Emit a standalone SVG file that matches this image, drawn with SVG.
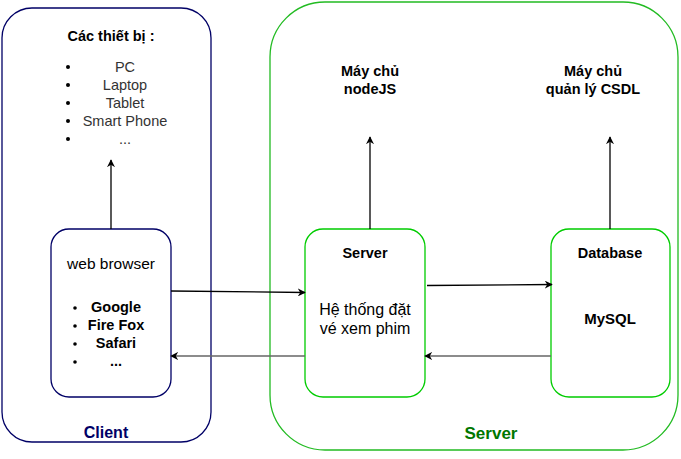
<svg xmlns="http://www.w3.org/2000/svg" width="681" height="459" viewBox="0 0 681 459">
<defs>
<marker id="ah" viewBox="0 0 10 10" refX="9" refY="5" markerWidth="8" markerHeight="8" markerUnits="userSpaceOnUse" orient="auto">
<path d="M0,0 L10,5 L0,10 L3,5 Z" fill="#000"/>
</marker>
<style>
text{font-family:"Liberation Sans",Arial,sans-serif;font-size:14.5px;fill:#000;text-anchor:middle}
.b{font-weight:bold}
.g{fill:#333}
.c{fill:none;stroke:#000;stroke-width:1.3;marker-end:url(#ah)}
.c2{fill:none;stroke:#666;stroke-width:1.5;marker-end:url(#ah)}
.nav{fill:#fff;stroke:#000066;stroke-width:1.3}
.grn{fill:#fff;stroke:#00cc00;stroke-width:1.3}
</style>
</defs>
<g id="client">
<rect class="nav" x="2" y="8" width="209" height="434" rx="30"/>
<text class="b" x="111" y="41">Các thiết bị :</text>
<g fill="#000"><circle cx="68" cy="67" r="2"/><circle cx="68" cy="85" r="2"/><circle cx="68" cy="103" r="2"/><circle cx="68" cy="121" r="2"/><circle cx="68" cy="139" r="2"/></g>
<text class="g" x="125" y="72">PC</text>
<text class="g" x="125" y="90">Laptop</text>
<text class="g" x="125" y="108">Tablet</text>
<text class="g" x="125" y="126">Smart Phone</text>
<text class="g" x="125" y="144">...</text>
<text class="b" x="106" y="438" style="fill:#000066;font-size:16px">Client</text>
</g>
<g id="server">
<rect x="270" y="2" width="408" height="448" rx="55" fill="#fff" stroke="#22bb22" stroke-width="1.3"/>
<text class="b" x="370" y="76">Máy chủ</text>
<text class="b" x="370" y="94">nodeJS</text>
<text class="b" x="593" y="76">Máy chủ</text>
<text class="b" x="593" y="94">quản lý CSDL</text>
<text class="b" x="491" y="439" style="fill:#007700;font-size:17px">Server</text>
</g>
<g id="webbrowser">
<rect class="nav" x="51" y="229" width="120" height="168" rx="18"/>
<text x="111" y="269" style="font-size:15.5px">web browser</text>
<g fill="#000"><circle cx="75" cy="308" r="1.8"/><circle cx="75" cy="326" r="1.8"/><circle cx="75" cy="344" r="1.8"/><circle cx="75" cy="362" r="1.8"/></g>
<g style="font-size:15px"><text class="b" x="116" y="312">Google</text>
<text class="b" x="116" y="330">Fire Fox</text>
<text class="b" x="116" y="348">Safari</text>
<text class="b" x="116" y="366">...</text></g>
</g>
<g id="serverapp">
<rect class="grn" x="305" y="229" width="120" height="168" rx="18"/>
<text class="b" x="365" y="258">Server</text>
<text x="365" y="315" style="font-size:16px">Hệ thống đặt</text>
<text x="365" y="334" style="font-size:16px">vé xem phim</text>
</g>
<g id="database">
<rect class="grn" x="551" y="229" width="119" height="168" rx="18"/>
<text class="b" x="610" y="258">Database</text>
<text class="b" x="610" y="324" style="font-size:15px">MySQL</text>
</g>
<g id="connectors">
<path class="c" d="M111,229 V160"/>
<path class="c" d="M370,229 V137"/>
<path class="c" d="M610,229 V137"/>
<path class="c" d="M171,291 L305,292.5"/>
<path class="c2" d="M305,356 H171"/>
<path class="c" d="M427,285.5 L552,284.5"/>
<path class="c2" d="M551,356 H425"/>
</g>
</svg>
